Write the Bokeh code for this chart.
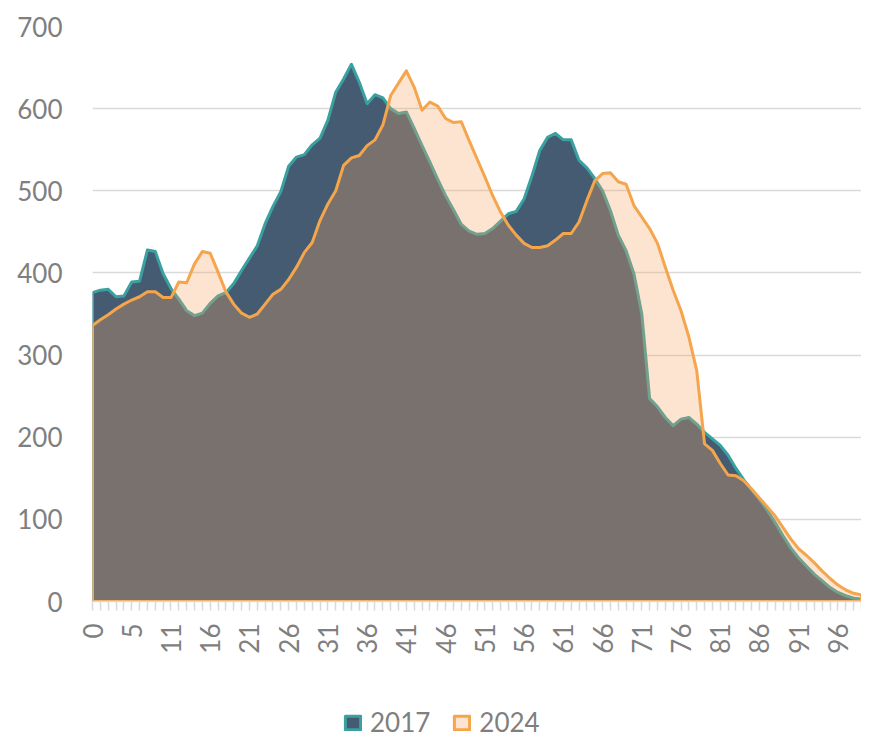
import math
from bokeh.plotting import figure
from bokeh.layouts import column
from bokeh.models import Range1d, FixedTicker, Legend, LegendItem
from bokeh.embed import file_html
from bokeh.resources import INLINE

# ---- data ----
series_2017 = [376, 379, 380, 371, 372, 389, 390, 428, 426, 399,
               381, 368, 354, 348, 351, 363, 372, 376, 387, 403,
               418, 433, 460, 481, 499, 530, 541, 544, 556, 564,
               586, 620, 636, 654, 632, 606, 617, 613, 600, 594,
               596, 576, 555, 535, 514, 494, 477, 459, 451, 447,
               448, 454, 463, 472, 475, 490, 518, 549, 565, 570,
               562, 562, 537, 528, 515, 500, 476, 446, 427, 399,
               350, 247, 237, 224, 214, 222, 224, 216, 206, 198,
               190, 178, 162, 148, 136, 124, 111, 96, 80, 65,
               53, 43, 33, 25, 17, 11, 7, 4, 3]

series_2024 = [336, 343, 349, 356, 362, 367, 371, 377, 377, 370,
               370, 389, 388, 411, 426, 424, 401, 377, 362, 351,
               346, 350, 362, 374, 380, 392, 407, 425, 437, 464,
               484, 500, 531, 540, 543, 555, 562, 580, 616, 631,
               646, 626, 598, 608, 603, 588, 583, 584, 561, 539,
               517, 494, 474, 458, 446, 436, 431, 431, 433, 440,
               448, 448, 462, 488, 512, 521, 522, 511, 508, 482,
               468, 454, 436, 407, 379, 354, 322, 281, 192, 184,
               168, 154, 153, 147, 137, 126, 115, 104, 90, 76,
               64, 56, 47, 37, 28, 20, 14, 10, 8]

tick_labels = ["0", "5", "11", "16", "21", "26", "31", "36", "41", "46",
               "51", "56", "61", "66", "71", "76", "81", "86", "91", "96"]
y_ticks = [0, 100, 200, 300, 400, 500, 600, 700]
series_names = ["2017", "2024"]

# ---- styles ----
FONT = "Lato"
GRAY = "#7f7f7f"
LIGHT = "#d9d9d9"
STYLE_2017 = dict(fill_color="#445B72", line_color="#3AA0A0",
                  line_width=3, line_join="round")
STYLE_2024 = dict(fill_color="#F5A562", fill_alpha=0.3, line_color="#F5A54B",
                  line_width=3, line_join="round")

# ---- main chart ----
n = len(series_2017)
idx = list(range(n))
xs = [idx[0]] + idx + [idx[-1]]
ys17 = [0] + series_2017 + [0]
ys24 = [0] + series_2024 + [0]

p = figure(frame_width=769, frame_height=575,
           min_border_left=92, min_border_right=0, min_border_top=26,
           min_border_bottom=62,
           x_range=Range1d(0, n - 1), y_range=Range1d(0, 700),
           output_backend="svg", toolbar_location=None)
p.outline_line_color = None
p.background_fill_color = "white"
p.border_fill_color = "white"

p.patch(xs, ys17, **STYLE_2017)
p.patch(xs, ys24, **STYLE_2024)

p.xgrid.grid_line_color = None
p.ygrid.ticker = FixedTicker(ticks=y_ticks)
p.ygrid.grid_line_color = LIGHT
p.ygrid.grid_line_width = 1.5

p.yaxis.ticker = FixedTicker(ticks=y_ticks)
p.yaxis.axis_line_color = None
p.yaxis.major_tick_line_color = None
p.yaxis.minor_tick_line_color = None
p.yaxis.major_tick_out = 0
p.yaxis.major_tick_in = 0
p.yaxis.major_label_standoff = 30
p.yaxis.major_label_text_font = FONT
p.yaxis.major_label_text_font_size = "26px"
p.yaxis.major_label_text_color = GRAY

label_pos = list(range(0, n, 5))
overrides = {i: "" for i in idx}
for pos, lab in zip(label_pos, tick_labels):
    overrides[pos] = lab
p.xaxis.ticker = FixedTicker(ticks=idx)
p.xaxis.major_label_overrides = overrides
p.xaxis.major_label_orientation = math.pi / 2
p.xaxis.axis_line_color = LIGHT
p.xaxis.axis_line_width = 1.5
p.xaxis.major_tick_line_color = LIGHT
p.xaxis.major_tick_line_width = 1.5
p.xaxis.major_tick_out = 9
p.xaxis.major_tick_in = 0
p.xaxis.minor_tick_line_color = None
p.xaxis.major_label_standoff = 13
p.xaxis.major_label_text_font = FONT
p.xaxis.major_label_text_font_size = "26px"
p.xaxis.major_label_text_color = GRAY

# ---- legend strip (series drawn out of view; only the legend shows) ----
lg = figure(width=861, height=76, min_border=0,
            x_range=Range1d(-20, -10), y_range=Range1d(-20, -10),
            output_backend="svg", toolbar_location=None)
lg.axis.visible = False
lg.grid.visible = False
lg.outline_line_color = None
lr17 = lg.patch(xs, ys17, **STYLE_2017)
lr24 = lg.patch(xs, ys24, **STYLE_2024)
legend = Legend(items=[LegendItem(label=series_names[0], renderers=[lr17]),
                       LegendItem(label=series_names[1], renderers=[lr24])],
                orientation="horizontal", location=(251, 1),
                label_text_font=FONT, label_text_font_size="26px",
                label_text_color=GRAY, glyph_width=19, glyph_height=17,
                spacing=22, label_standoff=8, padding=0, margin=0,
                border_line_color=None, background_fill_alpha=0)
lg.add_layout(legend, "center")

layout = column(p, lg, spacing=0)
open("out.html", "w").write(file_html(layout, INLINE))
